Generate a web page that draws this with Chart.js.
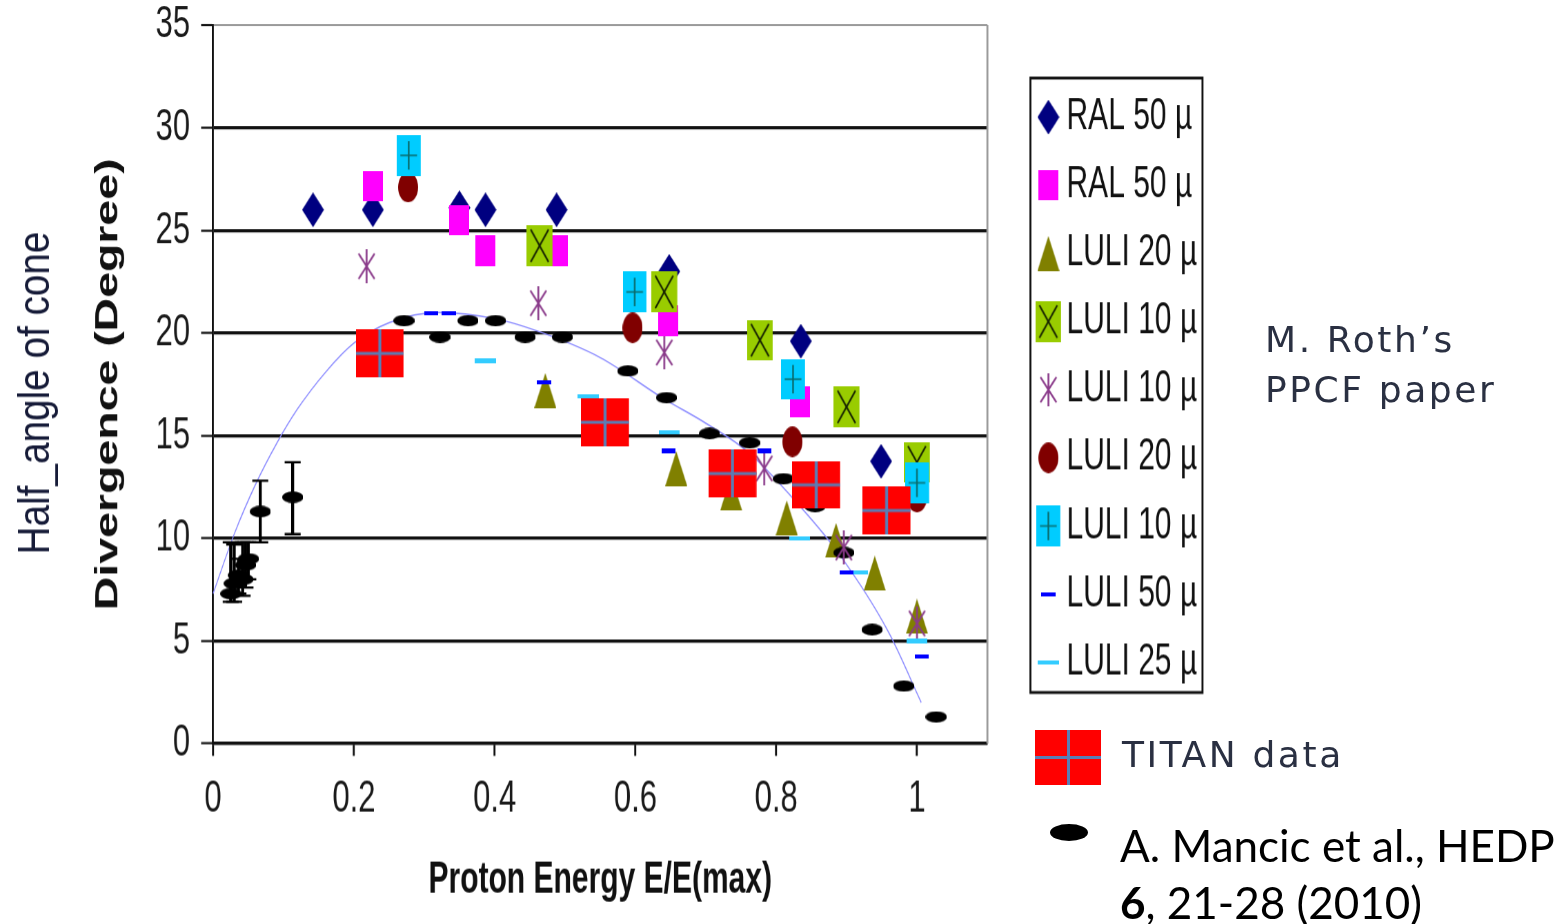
<!DOCTYPE html>
<html>
<head>
<meta charset="utf-8">
<title>Proton beam divergence vs energy</title>
<script src="https://cdn.jsdelivr.net/npm/chart.js@4.4.1/dist/chart.umd.min.js"></script>
<style>
  html, body { margin: 0; padding: 0; background: #fff; }
  body { position: relative; width: 1562px; height: 924px; overflow: hidden; }
  #plot { position: absolute; left: 0; top: 0; width: 1562px; transform-origin: 0 0; }
  .txt { position: absolute; white-space: nowrap; line-height: 1; transform: translateY(-50%); }
  .note { font-family: "DejaVu Sans", sans-serif; font-size: 36px; letter-spacing: 2.6px; color: #2a3042; }
  .ref { font-family: Lato, "Open Sans", sans-serif; font-size: 44px; color: #000; }
  #ylabel2 { position: absolute; left: 34px; top: 393px; white-space: nowrap; line-height: 1;
    font-family: "Liberation Sans", Arial, sans-serif; font-size: 44px; color: #161b38;
    transform: translate(-50%, -50%) rotate(-90deg) scaleX(0.88); }
  #titanKey { position: absolute; left: 1035px; top: 730px; width: 66px; height: 55px; background: #ff0000; }
  #titanKey::before { content: ""; position: absolute; left: 32px; top: 0; width: 3px; height: 55px; background: #5a7db5; }
  #titanKey::after { content: ""; position: absolute; left: 0; top: 26px; width: 66px; height: 3px; background: #5a7db5; }
  #mancicKey { position: absolute; left: 1050px; top: 824px; width: 38px; height: 17px; border-radius: 50%; background: #000; }
</style>
</head>
<body>
<div id="plot"><canvas id="chart" width="1562" height="637"></canvas></div>
<div id="ylabel2">Half_angle of cone</div>
<div class="txt note" style="left:1265px; top:340px;">M. Roth’s</div>
<div class="txt note" style="left:1265px; top:390px;">PPCF paper</div>
<div id="titanKey"></div>
<div class="txt note" style="left:1122px; top:755px;">TITAN data</div>
<div id="mancicKey"></div>
<div class="txt ref" style="left:1120px; top:845px;">A. Mancic et al., HEDP</div>
<div class="txt ref" style="left:1120px; top:902px;"><b>6</b>, 21-28 (2010)</div>
<script>
// the figure is drawn squashed and stretched back vertically, like the scanned plot
const STRETCH = 1.45;

// RAL 50 µ (diamonds)
const ralDiamondX = [0.142, 0.227, 0.350, 0.387, 0.488, 0.648, 0.835, 0.949];
const ralDiamondY = [26.0, 26.0, 26.1, 26.0, 26.0, 23.0, 19.6, 13.75];
// RAL 50 µ (squares)
const ralSquareX = [0.227, 0.350, 0.387, 0.490, 0.647, 0.834];
const ralSquareY = [27.15, 25.5, 24.0, 24.0, 20.6, 16.65];
// LULI 20 µ (triangles)
const luli20TriX = [0.472, 0.658, 0.736, 0.815, 0.885, 0.940, 1.0];
const luli20TriY = [17.2, 13.4, 12.2, 11.0, 9.9, 8.3, 6.2];
// LULI 10 µ (green boxes)
const luli10BoxX = [0.464, 0.641, 0.777, 0.900, 1.0];
const luli10BoxY = [24.25, 22.0, 19.65, 16.4, 13.7];
// LULI 10 µ (stars)
const luli10StarX = [0.218, 0.462, 0.641, 0.783, 0.896, 1.0];
const luli10StarY = [23.25, 21.45, 19.05, 13.4, 9.55, 5.85];
// LULI 20 µ (circles)
const luli20DotX = [0.277, 0.596, 0.823, 1.0];
const luli20DotY = [27.1, 20.25, 14.7, 12.0];
// LULI 10 µ (cyan crosses)
const luli10PlusX = [0.278, 0.599, 0.824, 1.0];
const luli10PlusY = [28.65, 22.0, 17.75, 12.7];
// LULI 50 µ (short blue dashes)
const luli50X = [0.310, 0.335, 0.470, 0.647, 0.783, 0.900, 1.007];
const luli50Y = [20.95, 20.95, 17.6, 14.25, 14.25, 8.35, 4.25];
// LULI 25 µ (cyan dashes)
const luli25X = [0.387, 0.533, 0.648, 0.833, 0.915, 1.0];
const luli25Y = [18.65, 16.9, 15.15, 10.0, 8.35, 5.0];
// TITAN data
const titanX = [0.237, 0.557, 0.738, 0.857, 0.957];
const titanY = [19.0, 15.65, 13.15, 12.6, 11.35];
// A. Mancic et al. (HEDP 2010)
const mancicX = [0.271, 0.322, 0.362, 0.401, 0.443, 0.496, 0.589, 0.644, 0.705, 0.762,
                 0.810, 0.855, 0.896, 0.936, 0.981, 1.027];
const mancicY = [20.6, 19.8, 20.6, 20.6, 19.8, 19.8, 18.15, 16.85, 15.1, 14.65,
                 12.9, 11.55, 9.3, 5.55, 2.8, 1.3];
// low-energy Mancic points with error bars
const mancicBarX = [0.025, 0.030, 0.036, 0.042, 0.046, 0.050, 0.067, 0.113];
const mancicBarY = [7.3, 7.8, 8.2, 8.0, 8.7, 9.0, 11.3, 12.0];
const mancicBarLow = [6.9, 6.9, 7.3, 7.2, 7.6, 8.0, 9.8, 10.2];
const mancicBarHigh = [9.8, 9.7, 9.0, 9.8, 9.8, 9.8, 12.8, 13.7];
// fitted trend curve
const fitX = [0, 0.03, 0.06, 0.09, 0.12, 0.16, 0.20, 0.25, 0.32, 0.40, 0.46, 0.55,
              0.64, 0.70, 0.76, 0.83, 0.89, 0.96, 1.006];
const fitY = [7.3, 10.2, 12.6, 14.6, 16.3, 18.1, 19.5, 20.5, 21.0, 20.7, 20.1, 18.8,
              16.8, 15.6, 14.2, 11.7, 9.2, 5.4, 2.0];

const xTicks = [0, 0.2, 0.4, 0.6, 0.8, 1];

const pts = (xs, ys) => xs.map((x, i) => ({x, y: ys[i]}));

// marker bitmaps: w, h are on-screen sizes, image is sized for the squashed canvas
function makeMarker(w, h, paint) {
    const c = document.createElement('canvas');
    c.width = Math.round(w * STRETCH);
    c.height = Math.round(h);
    const g = c.getContext('2d');
    g.scale(STRETCH, 1);
    paint(g, w, h);
    const img = new Image();
    img.src = c.toDataURL();
    img.width = w;
    img.height = Math.max(1, Math.round(h / STRETCH));
    return img;
}

const markers = {
    diamond: makeMarker(22, 35, (g, w, h) => {
        g.fillStyle = '#000080';
        g.beginPath();
        g.moveTo(w / 2, 0); g.lineTo(w, h / 2); g.lineTo(w / 2, h); g.lineTo(0, h / 2);
        g.closePath(); g.fill();
    }),
    square: makeMarker(20, 30, (g, w, h) => {
        g.fillStyle = '#ff00ff';
        g.fillRect(0, 0, w, h);
    }),
    triangle: makeMarker(22, 35, (g, w, h) => {
        g.fillStyle = '#808000';
        g.beginPath();
        g.moveTo(w / 2, 0); g.lineTo(w, h); g.lineTo(0, h);
        g.closePath(); g.fill();
    }),
    boxX: makeMarker(26, 40, (g, w, h) => {
        g.fillStyle = '#99cc00';
        g.fillRect(0, 0, w, h);
        g.strokeStyle = '#162200';
        g.lineWidth = 1.6;
        g.beginPath();
        g.moveTo(4, 4); g.lineTo(w - 4, h - 4);
        g.moveTo(w - 4, 4); g.lineTo(4, h - 4);
        g.stroke();
    }),
    star: makeMarker(20, 33, (g, w, h) => {
        g.strokeStyle = '#8a3a8a';
        g.lineWidth = 1.8;
        g.beginPath();
        g.moveTo(w / 2, 0); g.lineTo(w / 2, h);
        g.moveTo(w * 0.1, h * 0.12); g.lineTo(w * 0.9, h * 0.88);
        g.moveTo(w * 0.9, h * 0.12); g.lineTo(w * 0.1, h * 0.88);
        g.stroke();
    }),
    dot: makeMarker(20, 30, (g, w, h) => {
        g.fillStyle = '#800000';
        g.beginPath();
        g.ellipse(w / 2, h / 2, w / 2, h / 2, 0, 0, Math.PI * 2);
        g.fill();
    }),
    plus: makeMarker(24, 40, (g, w, h) => {
        g.fillStyle = '#00ccff';
        g.fillRect(0, 0, w, h);
        g.strokeStyle = '#0b6a6a';
        g.lineWidth = 1.6;
        g.beginPath();
        g.moveTo(w / 2, h * 0.15); g.lineTo(w / 2, h * 0.85);
        g.moveTo(w * 0.15, h / 2); g.lineTo(w * 0.85, h / 2);
        g.stroke();
    }),
    dashBlue: makeMarker(14, 4, (g, w, h) => {
        g.fillStyle = '#0000ff';
        g.fillRect(0, 0, w, h);
    }),
    dashCyan: makeMarker(21, 4, (g, w, h) => {
        g.fillStyle = '#33ccff';
        g.fillRect(0, 0, w, h);
    }),
    titan: makeMarker(48, 48, (g, w, h) => {
        g.fillStyle = '#ff0000';
        g.fillRect(0, 0, w, h);
        g.fillStyle = '#5a7db5';
        g.fillRect(w / 2 - 1.5, 0, 3, h);
        g.fillRect(0, h / 2 - 1.5, w, 3);
    }),
    ellipse: makeMarker(21, 12, (g, w, h) => {
        g.fillStyle = '#000';
        g.beginPath();
        g.ellipse(w / 2, h / 2, w / 2, h / 2, 0, 0, Math.PI * 2);
        g.fill();
    })
};

// boxed legend inside the figure, rows in this order
const boxLegend = {
    id: 'boxLegend',
    afterDraw(chart) {
        const ctx = chart.ctx;
        const top = 78 / STRETCH, bottom = 692 / STRETCH;
        ctx.save();
        ctx.strokeStyle = '#111';
        ctx.lineWidth = 2;
        ctx.strokeRect(1030, top, 172, bottom - top);
        ctx.font = '30px "Liberation Sans", Arial, sans-serif';
        ctx.fillStyle = '#111';
        ctx.textBaseline = 'middle';
        chart.data.datasets
            .filter(d => d.legendRow !== undefined)
            .sort((a, b) => a.legendRow - b.legendRow)
            .forEach(d => {
                const y = (117 + d.legendRow * 68.1) / STRETCH;
                const img = d.pointStyle;
                ctx.drawImage(img, 1048 - img.width / 2, y - img.height / 2, img.width, img.height);
                ctx.fillText(d.label, 1066, y);
            });
        ctx.restore();
    }
};

// grey right-hand frame of the plot area
const frame = {
    id: 'frame',
    beforeDatasetsDraw(chart) {
        const {ctx, chartArea: a} = chart;
        ctx.save();
        ctx.strokeStyle = '#9a9a9a';
        ctx.lineWidth = 2;
        ctx.beginPath();
        ctx.moveTo(a.right, a.top);
        ctx.lineTo(a.right, a.bottom);
        ctx.stroke();
        ctx.restore();
    }
};

const errorBars = {
    id: 'errorBars',
    afterDatasetsDraw(chart) {
        const {ctx, scales: {x, y}} = chart;
        ctx.save();
        ctx.strokeStyle = '#000';
        mancicBarX.forEach((v, i) => {
            const px = x.getPixelForValue(v);
            const lo = y.getPixelForValue(mancicBarLow[i]);
            const hi = y.getPixelForValue(mancicBarHigh[i]);
            ctx.lineWidth = 3;
            ctx.beginPath();
            ctx.moveTo(px, lo); ctx.lineTo(px, hi);
            ctx.stroke();
            ctx.lineWidth = 1.6;
            ctx.beginPath();
            ctx.moveTo(px - 8, lo); ctx.lineTo(px + 8, lo);
            ctx.moveTo(px - 8, hi); ctx.lineTo(px + 8, hi);
            ctx.stroke();
        });
        ctx.restore();
    }
};

const plotBox = document.getElementById('plot');
plotBox.style.transform = `scaleY(${STRETCH})`;

Chart.defaults.font.family = '"Liberation Sans", Arial, sans-serif';

function draw() {
    const ctx = document.getElementById('chart').getContext('2d');
    new Chart(ctx, {
        type: 'scatter',
        data: {
            datasets: [
                {label: 'RAL 50 µ', legendRow: 0, order: 6, data: pts(ralDiamondX, ralDiamondY), pointStyle: markers.diamond},
                {label: 'RAL 50 µ', legendRow: 1, order: 5, data: pts(ralSquareX, ralSquareY), pointStyle: markers.square},
                {label: 'LULI 20 µ', legendRow: 2, order: 10, data: pts(luli20TriX, luli20TriY), pointStyle: markers.triangle},
                {label: 'LULI 10 µ', legendRow: 3, order: 4, data: pts(luli10BoxX, luli10BoxY), pointStyle: markers.boxX},
                {label: 'LULI 10 µ', legendRow: 4, order: 8, data: pts(luli10StarX, luli10StarY), pointStyle: markers.star},
                {label: 'LULI 20 µ', legendRow: 5, order: 7, data: pts(luli20DotX, luli20DotY), pointStyle: markers.dot},
                {label: 'LULI 10 µ', legendRow: 6, order: 1, data: pts(luli10PlusX, luli10PlusY), pointStyle: markers.plus},
                {label: 'LULI 50 µ', legendRow: 7, order: 2, data: pts(luli50X, luli50Y), pointStyle: markers.dashBlue},
                {label: 'LULI 25 µ', legendRow: 8, order: 3, data: pts(luli25X, luli25Y), pointStyle: markers.dashCyan},
                {label: 'TITAN data', order: 0, data: pts(titanX, titanY), pointStyle: markers.titan},
                {label: 'A. Mancic et al.', order: 9,
                 data: pts(mancicX, mancicY).concat(pts(mancicBarX, mancicBarY)), pointStyle: markers.ellipse},
                {label: 'fit', order: 20, data: pts(fitX, fitY), showLine: true, pointRadius: 0,
                 borderColor: '#8a8aff', borderWidth: 1, tension: 0.4, cubicInterpolationMode: 'monotone'}
            ]
        },
        options: {
            responsive: false,
            animation: false,
            events: [],
            devicePixelRatio: STRETCH,
            layout: {padding: {left: 85, right: 575, top: 25 / STRETCH, bottom: 8}},
            datasets: {scatter: {clip: false}},
            plugins: {legend: {display: false}, tooltip: {enabled: false}},
            scales: {
                x: {
                    type: 'linear',
                    min: 0,
                    max: 1.1,
                    afterBuildTicks: s => { s.ticks = xTicks.map(v => ({value: v})); },
                    afterFit: s => { s.height = 629 - 743 / STRETCH; s.paddingLeft = 0; s.paddingRight = 0; },
                    ticks: {
                        font: {size: 31},
                        color: '#1a1a1a',
                        padding: 11.5,
                        maxRotation: 0,
                        autoSkip: false,
                        callback: v => String(Number(v.toFixed(1)))
                    },
                    grid: {drawOnChartArea: false, tickLength: 8.5, tickColor: '#111', tickWidth: 2},
                    border: {color: '#111', width: 2.2},
                    title: {
                        display: true,
                        text: 'Proton Energy E/E(max)',
                        font: {size: 30, weight: 'bold'},
                        color: '#111',
                        padding: {top: 0, bottom: 4}
                    }
                },
                y: {
                    min: 0,
                    max: 35,
                    afterFit: s => { s.width = 213 - 85; s.paddingTop = 0; s.paddingBottom = 0; },
                    ticks: {stepSize: 5, font: {size: 31}, color: '#1a1a1a', padding: 11},
                    grid: {
                        color: c => c.tick && c.tick.value === 35 ? '#9a9a9a' : '#111',
                        lineWidth: c => c.tick && c.tick.value === 35 ? 1.4 : 2.2,
                        tickLength: 12,
                        tickColor: '#111',
                        tickWidth: 1.5
                    },
                    border: {color: '#111', width: 2},
                    title: {
                        display: true,
                        text: 'Divergence (Degree)',
                        font: {size: 32, weight: 'bold'},
                        color: '#111',
                        padding: {top: 4, bottom: 0}
                    }
                }
            }
        },
        plugins: [frame, errorBars, boxLegend]
    });
}

Promise.all(Object.values(markers).map(img => img.decode())).then(draw, draw);
</script>
</body>
</html>
